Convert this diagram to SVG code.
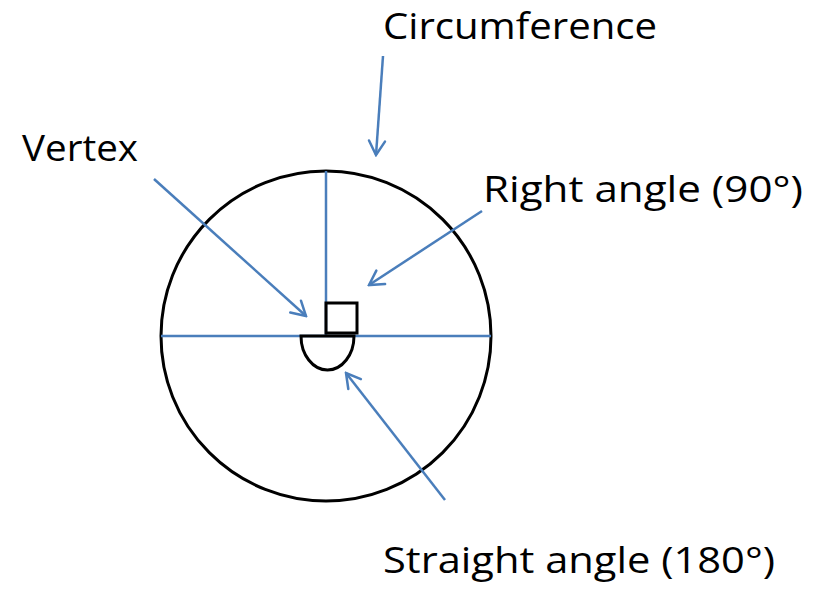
<svg xmlns="http://www.w3.org/2000/svg" width="819" height="595" viewBox="0 0 819 595">
<style>
.lbl{font-family:"Open Sans","Liberation Sans",Arial,sans-serif;font-size:36px;fill:#000}
.blk{fill:none;stroke:#000;stroke-width:3}
.blu{fill:none;stroke:#4A7EBB;stroke-width:2.5}
</style>
<defs>
<marker id="arr" viewBox="0 0 20 20" refX="18" refY="10" markerWidth="20" markerHeight="20" markerUnits="userSpaceOnUse" orient="auto">
<path d="M4,2 L18,10 L4,18" fill="none" stroke="#4A7EBB" stroke-width="2.5" stroke-linecap="round"/>
</marker>
</defs>
<g id="circle"><circle class="blk" cx="326" cy="336" r="165"/></g>
<g id="radii">
<line class="blu" x1="161" y1="336" x2="491" y2="336"/>
<line class="blu" x1="326" y1="171" x2="326" y2="336"/>
</g>
<g id="right-angle-mark"><rect class="blk" x="326" y="303" width="31" height="30"/></g>
<g id="straight-angle-mark"><path class="blk" d="M301,336 L354,336 A26.5,34 0 0 1 301,336 Z"/></g>
<g id="connectors">
<line class="blu" x1="383" y1="56" x2="376" y2="155" marker-end="url(#arr)"/>
<line class="blu" x1="154" y1="179" x2="306" y2="316" marker-end="url(#arr)"/>
<line class="blu" x1="482" y1="211" x2="369" y2="285" marker-end="url(#arr)"/>
<line class="blu" x1="445" y1="500" x2="346" y2="373" marker-end="url(#arr)"/>
</g>
<g id="label-circumference"><text class="lbl" x="383" y="39" textLength="274" lengthAdjust="spacingAndGlyphs">Circumference</text></g>
<g id="label-vertex"><text class="lbl" x="22" y="161" textLength="116" lengthAdjust="spacingAndGlyphs">Vertex</text></g>
<g id="label-right"><text class="lbl" x="483" y="202" textLength="320" lengthAdjust="spacingAndGlyphs">Right angle (90°)</text></g>
<g id="label-straight"><text class="lbl" x="383" y="573" textLength="392" lengthAdjust="spacingAndGlyphs">Straight angle (180°)</text></g>
</svg>
